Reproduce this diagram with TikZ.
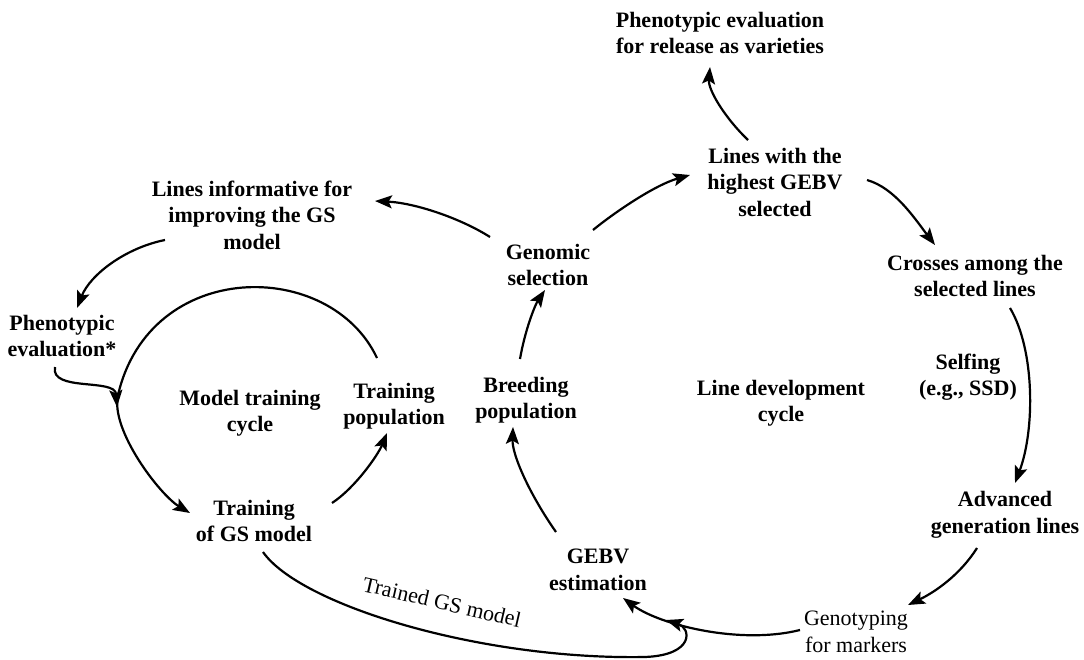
\documentclass[tikz,border=0pt]{standalone}
\usepackage{fontspec}
\setmainfont{Liberation Serif}
\usetikzlibrary{arrows.meta,calc}

\begin{document}
\begin{tikzpicture}[x=1pt,y=-1pt,
    lbl/.style={font=\fontsize{22}{26.5}\selectfont\bfseries, align=center, inner sep=0pt},
    plain/.style={font=\fontsize{22}{26.5}\selectfont, align=center, inner sep=0pt},
    arr/.style={line width=2.2pt, -{Stealth[length=17pt,width=13pt,inset=3.5pt]}},
    line/.style={line width=2.2pt}]
  \useasboundingbox (0,0) rectangle (1084,660);

  \node[lbl] (release) at (720,33) {Phenotypic evaluation\\for release as varieties};
  \node[lbl] (best) at (775,182) {Lines with the\\highest GEBV\\selected};
  \node[lbl] (inform) at (252,215) {Lines informative for\\improving the GS\\model};
  \node[lbl] (genomic) at (548,265) {Genomic\\selection};
  \node[lbl] (crosses) at (975,276) {Crosses among the\\selected lines};
  \node[lbl] (pheno) at (62,336) {Phenotypic\\evaluation*};
  \node[lbl] (selfing) at (968,377) {Selfing\\(e.g., SSD)};
  \node[lbl] (mcycle) at (250,413) {Model training\\cycle};
  \node[lbl] (trainpop) at (394,406) {Training\\population};
  \node[lbl] (breeding) at (526,400) {Breeding\\population};
  \node[lbl] (lcycle) at (781,403) {Line development\\cycle};
  \node[lbl] (advanced) at (1005,515) {Advanced\\generation lines};
  \node[lbl] (traingm) at (254,521) {Training\\of GS model};
  \node[lbl] (gebv) at (598,570) {GEBV\\estimation};
  \node[plain] (genotyp) at (856,632) {Genotyping\\for markers};
  \node[plain, rotate=-13] (trained) at (442,602) {Trained GS model};

  \coordinate (join) at (117,407);
  \coordinate (merge) at (666,620);
  \coordinate (dip) at (645,657);

  % line development cycle
  \draw[arr] ($(genomic)+(-58,-28)$) .. controls +(-30,-19) and +(40,2) .. ($(inform)+(123,-14)$);
  \draw[arr] ($(genomic)+(45,-35)$) .. controls +(22,-18) and +(-35,10) .. ($(best)+(-85,-7)$);
  \draw[arr] ($(best)+(-27,-42)$) .. controls +(-23,-22) and +(-2,23) .. ($(release)+(-10,34)$);
  \draw[arr] ($(best)+(92,-2)$) .. controls +(28,8) and +(-20,-26) .. ($(crosses)+(-40,-31)$);
  \draw[arr] ($(crosses)+(35,32)$) .. controls +(25,42) and +(20,-53) .. ($(advanced)+(10,-32)$);
  \draw[arr] ($(advanced)+(-28,33)$) .. controls +(-17,27) and +(27,-13) .. ($(genotyp)+(52,-27)$);
  \draw[arr] ($(genotyp)+(-56,-2)$) .. controls +(-60,15) and +(37,27) .. ($(gebv)+(25,28)$);
  \draw[arr] ($(gebv)+(-42,-38)$) .. controls +(-26,-37) and +(-1,28) .. ($(breeding)+(-13,27)$);
  \draw[arr] ($(breeding)+(-6,-41)$) .. controls +(5,-29) and +(-10,15) .. ($(genomic)+(-3,25)$);

  % model training cycle
  \draw[arr] ($(traingm)+(78,-18)$) .. controls +(23,-15) and +(-9,22) .. ($(trainpop)+(-7,27)$);
  \draw[arr] ($(trainpop)+(-17,-48)$) .. controls +(-47,-100) and +(32,-137) .. (118,395)
    .. controls +(-8,35) and +(-30,-18) .. ($(traingm)+(-64,-8)$);
  \draw[arr] ($(inform)+(-87,25)$) .. controls +(-40,8) and +(13,-33) .. ($(pheno)+(15,-28)$);
  \draw[arr] ($(pheno)+(-7,31)$) .. controls +(-5,25) and +(-2,-29) .. (join);

  % trained model feeds the estimation
  \draw[arr] ($(traingm)+(9,31)$) .. controls +(37,53) and +(-165,3) .. (dip)
    .. controls +(50,-2) and +(25,8) .. (merge);
\end{tikzpicture}
\end{document}
